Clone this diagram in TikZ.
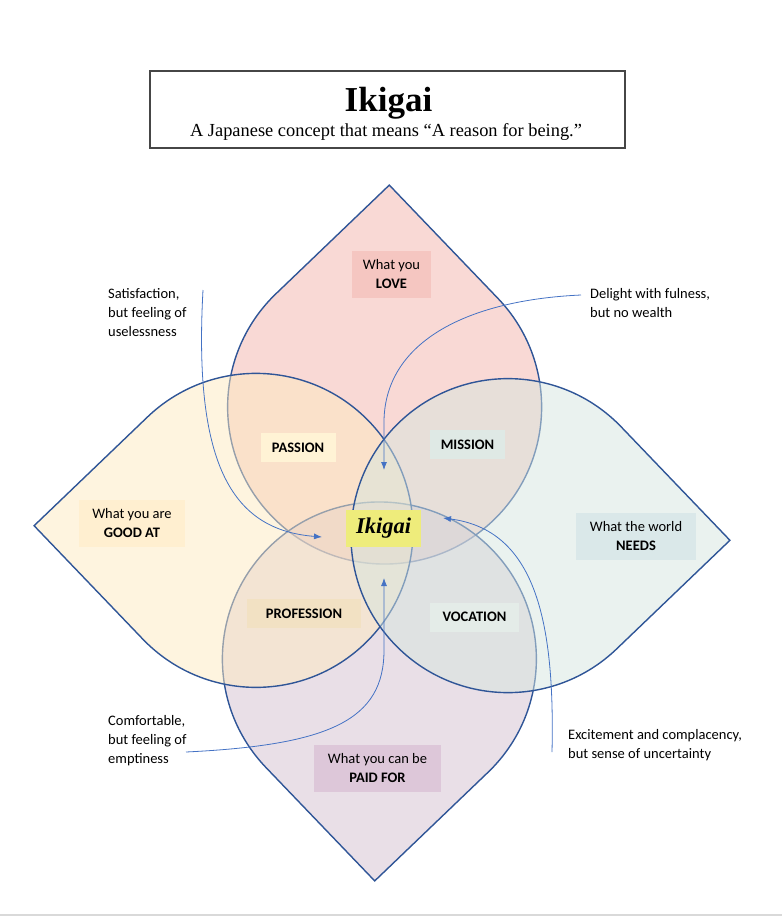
\documentclass[tikz,border=0pt]{standalone}
\usepackage{fontspec}
\setmainfont{Carlito}
\newfontfamily\timesfont{Liberation Serif}
\usetikzlibrary{arrows.meta}

\definecolor{petalline}{RGB}{47,85,151}
\definecolor{pointerblue}{RGB}{68,114,196}
\definecolor{titleline}{RGB}{70,70,70}
\definecolor{lovefill}{RGB}{243,179,171}
\definecolor{goodfill}{RGB}{253,233,191}
\definecolor{needsfill}{RGB}{213,229,223}
\definecolor{paidfill}{RGB}{211,191,207}
\definecolor{lovebox}{RGB}{245,198,193}
\definecolor{goodbox}{RGB}{255,239,208}
\definecolor{needsbox}{RGB}{218,232,233}
\definecolor{paidbox}{RGB}{221,199,217}
\definecolor{passionbox}{RGB}{255,243,213}
\definecolor{missionbox}{RGB}{223,233,229}
\definecolor{professionbox}{RGB}{242,225,195}
\definecolor{vocationbox}{RGB}{228,236,232}
\definecolor{ikigaibox}{RGB}{238,236,123}

\begin{document}
\begin{tikzpicture}[x=1pt,y=-1pt,
  petal/.style={draw=petalline, line width=1.4pt, fill opacity=0.5},
  tag/.style={inner sep=0pt, align=center, font=\fontsize{14.5}{19}\selectfont},
  note/.style={anchor=west, inner sep=0pt, align=left, font=\fontsize{14.5}{19}\selectfont},
  pointer/.style={draw=pointerblue, line width=0.8pt, -{Latex[length=8pt,width=6pt]}}]
\useasboundingbox (0,0) rectangle (782,917);

\node[draw=titleline, line width=1.2pt, minimum width=475, minimum height=77, inner sep=0pt] (titlebox) at (387.5,109.5) {};
\node[anchor=base, inner sep=0pt, font=\timesfont\fontsize{35}{36}\selectfont\bfseries] (titletext) at (388.5,112) {Ikigai};
\node[anchor=base, inner sep=0pt, font=\timesfont\fontsize{18.4}{20}\selectfont] (subtitle) at (386,137) {A Japanese concept that means “A reason for being.”};

\begin{scope}[shift={(382,533)}, rotate=-1.2]
\filldraw[petal, fill=lovefill] (0,-348) -- (111,-237) arc[start angle=315, end angle=585, radius=157] -- cycle;
\filldraw[petal, fill=paidfill] (0,348) -- (-111,237) arc[start angle=135, end angle=405, radius=157] -- cycle;
\filldraw[petal, fill=goodfill] (-348,0) -- (-237,-111) arc[start angle=225, end angle=495, radius=157] -- cycle;
\filldraw[petal, fill=needsfill] (348,0) -- (237,111) arc[start angle=45, end angle=315, radius=157] -- cycle;
\end{scope}

\node[tag, fill=lovebox, minimum width=79, minimum height=47] (love) at (391.5,274.5) {What you\\\textbf{LOVE}};
\node[tag, fill=goodbox, minimum width=106, minimum height=47] (goodat) at (132,523.5) {What you are\\\textbf{GOOD AT}};
\node[tag, fill=needsbox, minimum width=120, minimum height=47] (needs) at (636,536) {What the world\\\textbf{NEEDS}};
\node[tag, fill=paidbox, minimum width=127, minimum height=47] (paidfor) at (377.5,768.5) {What you can be\\\textbf{PAID FOR}};
\node[tag, fill=passionbox, minimum width=75, minimum height=29, font=\fontsize{14.5}{19}\selectfont\bfseries] (passion) at (298,447.5) {PASSION};
\node[tag, fill=missionbox, minimum width=75, minimum height=29, font=\fontsize{14.5}{19}\selectfont\bfseries] (mission) at (467.5,444.5) {MISSION};
\node[tag, fill=professionbox, minimum width=114, minimum height=29, font=\fontsize{14.5}{19}\selectfont\bfseries] (profession) at (304,613.5) {PROFESSION};
\node[tag, fill=vocationbox, minimum width=89, minimum height=29, font=\fontsize{14.5}{19}\selectfont\bfseries] (vocation) at (474.5,617) {VOCATION};
\node[tag, fill=ikigaibox, minimum width=75, minimum height=37, font=\timesfont\fontsize{22.5}{24}\selectfont\bfseries\itshape] (ikigai) at (383.5,528.5) {Ikigai};

\node[note] (satisfaction) at (108,313) {Satisfaction,\\but feeling of\\uselessness};
\node[note] (delight) at (590,303.5) {Delight with fulness,\\but no wealth};
\node[note] (comfortable) at (108,741) {Comfortable,\\but feeling of\\emptiness};
\node[note] (excitement) at (568,745) {Excitement and complacency,\\but sense of uncertainty};

\coordinate (satisfactionfrom) at (203,290);
\coordinate (satisfactionto) at (322,537);
\coordinate (delightfrom) at (581,295);
\coordinate (delightto) at (384,470);
\coordinate (comfortablefrom) at (186,752);
\coordinate (comfortableto) at (384,578);
\coordinate (excitementfrom) at (552,752);
\coordinate (excitementto) at (443,518);

\draw[pointer] (satisfactionfrom) .. controls (193,470) and (235,530) .. (satisfactionto);
\draw[pointer] (delightfrom) .. controls (470,300) and (386,340) .. (384,420) -- (delightto);
\draw[pointer] (comfortablefrom) .. controls (330,745) and (384,720) .. (384,650) -- (comfortableto);
\draw[pointer] (excitementfrom) .. controls (555,620) and (535,530) .. (excitementto);

\draw[black!15, line width=2pt] (0,915) -- (782,915);
\end{tikzpicture}
\end{document}
